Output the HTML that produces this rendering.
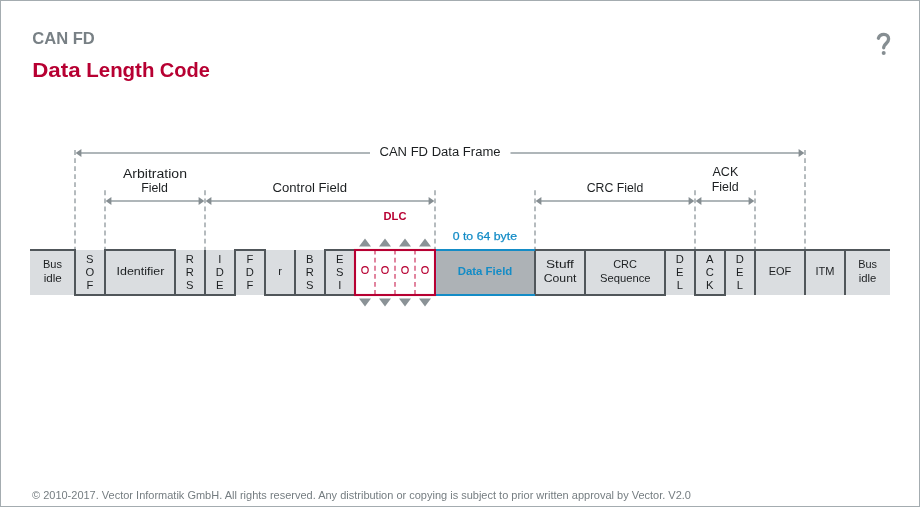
<!DOCTYPE html>
<html><head><meta charset="utf-8">
<style>
html,body{margin:0;padding:0;background:#fff;}
body{width:920px;height:507px;overflow:hidden;position:relative;font-family:"Liberation Sans",sans-serif;}
#frame{position:absolute;left:0;top:0;width:918px;height:505px;border:1px solid #a4acb0;}
svg{position:absolute;left:0;top:0;will-change:transform;}
text{font-family:"Liberation Sans",sans-serif;}
</style></head><body>
<div id="frame"></div>
<svg width="920" height="507" viewBox="0 0 920 507">
<!-- titles -->
<text x="32.3" y="44.2" font-size="15.7" textLength="62.5" lengthAdjust="spacingAndGlyphs" fill="#788085" font-weight="bold">CAN FD</text>
<text x="32.2" y="77" font-size="19.3" textLength="48.4" lengthAdjust="spacingAndGlyphs" fill="#b70032" font-weight="bold">Data</text><text x="86.3" y="77" font-size="19.3" textLength="68.1" lengthAdjust="spacingAndGlyphs" fill="#b70032" font-weight="bold">Length</text><text x="159.8" y="77" font-size="19.3" textLength="50.0" lengthAdjust="spacingAndGlyphs" fill="#b70032" font-weight="bold">Code</text>
<!-- help icon -->
<path d="M878.4 38.2C879.3 35.4 881.6 34.3 883.9 34.3C886.8 34.3 888.6 36.4 888.6 38.9C888.6 42 885.8 43.3 884.5 45.4C883.9 46.4 883.7 47 883.7 47.8" fill="none" stroke="#868e92" stroke-width="3.3" stroke-linecap="round" stroke-linejoin="round"/>
<circle cx="883.7" cy="53.1" r="2" fill="#868e92"/>
<!-- dashed guides -->
<g stroke="#9da5a9" stroke-width="1.5" fill="none" stroke-dasharray="4.8 3.25">
<path d="M75 251.5V150M805 251.5V150"/>
<path d="M105 251.5V190.3M205 251.5V190.3M435 251.5V190.3M535 251.5V190.3M695 251.5V190.3M755 251.5V190.3"/>
</g>
<!-- arrows -->
<g stroke="#959ea2" stroke-width="1.5" fill="none">
<path d="M78 153H370M510.5 153H802"/>
<path d="M108 201H202M208 201H432M538 201H692M698 201H752"/>
</g>
<g fill="#868e92">
<path d="M75.6 153l5.8 -3.9v7.8zM804.4 153l-5.8 -3.9v7.8zM105.6 201l5.8 -3.9v7.8zM204.4 201l-5.8 -3.9v7.8zM205.6 201l5.8 -3.9v7.8zM434.4 201l-5.8 -3.9v7.8zM535.6 201l5.8 -3.9v7.8zM694.4 201l-5.8 -3.9v7.8zM695.6 201l5.8 -3.9v7.8zM754.4 201l-5.8 -3.9v7.8z"/>
</g>
<!-- labels -->
<g fill="#1c1f21">
<text x="379.5" y="156" font-size="12" textLength="121.0" lengthAdjust="spacingAndGlyphs">CAN FD Data Frame</text>
<text x="123" y="177.5" font-size="12" textLength="64" lengthAdjust="spacingAndGlyphs">Arbitration</text>
<text x="141.2" y="191.7" font-size="12" textLength="26.8" lengthAdjust="spacingAndGlyphs">Field</text>
<text x="272.5" y="191.7" font-size="12" textLength="74.5" lengthAdjust="spacingAndGlyphs">Control Field</text>
<text x="586.7" y="191.7" font-size="12" textLength="56.6" lengthAdjust="spacingAndGlyphs">CRC Field</text>
<text x="712.5" y="176.2" font-size="12" textLength="25.8" lengthAdjust="spacingAndGlyphs">ACK</text>
<text x="711.7" y="191.2" font-size="12" textLength="27.0" lengthAdjust="spacingAndGlyphs">Field</text>
</g>
<text x="383.6" y="220.2" font-size="11" textLength="22.8" lengthAdjust="spacingAndGlyphs" fill="#b70032" font-weight="bold">DLC</text>
<text x="452.7" y="240" font-size="11.2" textLength="64.3" lengthAdjust="spacingAndGlyphs" fill="#148cc6" stroke="#148cc6" stroke-width="0.25">0 to 64 byte</text>
<!-- frame fill -->
<rect x="30" y="250" width="860" height="45" fill="#dadde0"/>
<rect x="355" y="250" width="80" height="45" fill="#ffffff"/>
<rect x="435" y="250" width="100" height="45" fill="#adb2b6"/>
<!-- signal lines -->
<g stroke="#50565a" stroke-width="2" fill="none" stroke-linejoin="miter" stroke-linecap="butt">
<path d="M30 250H75V295H235V250H265V295H355"/>
<path d="M105 295V250H175V295M205 250V295"/>
<path d="M295 250V295M325 295V250H355"/>
<path d="M535 295V250H890"/>
<path d="M535 295H665V250M585 250V295"/>
<path d="M695 250V295H725V250"/>
<path d="M755 250V295M805 250V295M845 250V295"/>
</g>
<!-- data field blue lines -->
<path d="M435 250H535M435 295H535" stroke="#148cc6" stroke-width="2" fill="none"/>
<path d="M436.5 251V294" stroke="#9cc3d2" stroke-width="1" fill="none"/>
<!-- DLC -->
<g stroke="#d85d80" stroke-width="1.5" stroke-dasharray="4.8 3.25" fill="none">
<path d="M375 294.8V250M395 294.8V250M415 294.8V250"/>
</g>
<rect x="355" y="250" width="80" height="45" fill="none" stroke="#b70032" stroke-width="2.1"/>
<g fill="none" stroke="#b70032" stroke-width="1.18">
<ellipse cx="365" cy="270" rx="3.2" ry="3.45"/><ellipse cx="385" cy="270" rx="3.2" ry="3.45"/><ellipse cx="405" cy="270" rx="3.2" ry="3.45"/><ellipse cx="425" cy="270" rx="3.2" ry="3.45"/>
</g>
<g fill="#8a9296">
<path d="M365 238.4l6 8.2h-12zM385 238.4l6 8.2h-12zM405 238.4l6 8.2h-12zM425 238.4l6 8.2h-12z"/>
<path d="M365 306.6l6-8.2h-12zM385 306.6l6-8.2h-12zM405 306.6l6-8.2h-12zM425 306.6l6-8.2h-12z"/>
</g>
<!-- field labels -->
<g fill="#1c1f21">
<text x="43" y="268" font-size="11.2" textLength="19" lengthAdjust="spacingAndGlyphs">Bus</text>
<text x="43.7" y="281.7" font-size="11.2" textLength="18.1" lengthAdjust="spacingAndGlyphs">idle</text>
<text x="116.5" y="275" font-size="11.2" textLength="47.8" lengthAdjust="spacingAndGlyphs">Identifier</text>
<text x="546" y="268" font-size="11.2" textLength="27.8" lengthAdjust="spacingAndGlyphs">Stuff</text>
<text x="543.7" y="281.7" font-size="11.2" textLength="32.7" lengthAdjust="spacingAndGlyphs">Count</text>
<text x="613.2" y="268" font-size="11.2" textLength="23.8" lengthAdjust="spacingAndGlyphs">CRC</text>
<text x="600" y="281.7" font-size="11.2" textLength="50.5" lengthAdjust="spacingAndGlyphs">Sequence</text>
<text x="768.7" y="275" font-size="11.2" textLength="22.6" lengthAdjust="spacingAndGlyphs">EOF</text>
<text x="815.5" y="275" font-size="11.2" textLength="19.0" lengthAdjust="spacingAndGlyphs">ITM</text>
<text x="858.2" y="268" font-size="11.2" textLength="18.8" lengthAdjust="spacingAndGlyphs">Bus</text>
<text x="858.7" y="281.7" font-size="11.2" textLength="17.6" lengthAdjust="spacingAndGlyphs">idle</text>
</g>
<g font-size="11.2" fill="#1c1f21" text-anchor="middle">
<text x="89.8" y="263">S</text><text x="89.8" y="276">O</text><text x="89.8" y="288.8">F</text>
<text x="189.8" y="263">R</text><text x="189.8" y="276">R</text><text x="189.8" y="288.8">S</text>
<text x="219.8" y="263">I</text><text x="219.8" y="276">D</text><text x="219.8" y="288.8">E</text>
<text x="249.8" y="263">F</text><text x="249.8" y="276">D</text><text x="249.8" y="288.8">F</text>
<text x="309.8" y="263">B</text><text x="309.8" y="276">R</text><text x="309.8" y="288.8">S</text>
<text x="339.8" y="263">E</text><text x="339.8" y="276">S</text><text x="339.8" y="288.8">I</text>
<text x="679.8" y="263">D</text><text x="679.8" y="276">E</text><text x="679.8" y="288.8">L</text>
<text x="709.8" y="263">A</text><text x="709.8" y="276">C</text><text x="709.8" y="288.8">K</text>
<text x="739.8" y="263">D</text><text x="739.8" y="276">E</text><text x="739.8" y="288.8">L</text>
<text x="280" y="275">r</text>
</g>
<text x="457.7" y="275" font-size="11.2" textLength="54.6" lengthAdjust="spacingAndGlyphs" fill="#148cc6" font-weight="bold">Data Field</text>
<!-- footer -->
<text x="32" y="499.2" font-size="10.4" textLength="659" lengthAdjust="spacingAndGlyphs" fill="#757d81">© 2010-2017. Vector Informatik GmbH. All rights reserved. Any distribution or copying is subject to prior written approval by Vector. V2.0</text>
</svg>
</body></html>
